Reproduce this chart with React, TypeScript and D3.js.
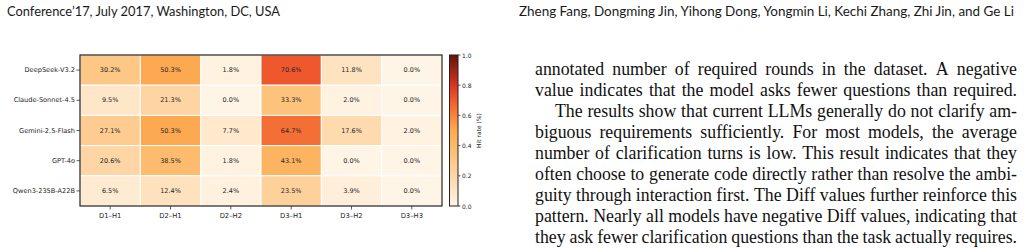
import * as d3 from 'd3'
import React, { useMemo } from 'react'

const models = ['DeepSeek-V3.2', 'Claude-Sonnet-4.5', 'Gemini-2.5-Flash', 'GPT-4o', 'Qwen3-235B-A22B']
const settings = ['D1–H1', 'D2–H1', 'D2–H2', 'D3–H1', 'D3–H2', 'D3–H3']
const deepseek = [30.2, 50.3, 1.8, 70.6, 11.8, 0.0]
const claude = [9.5, 21.3, 0.0, 33.3, 2.0, 0.0]
const gemini = [27.1, 50.3, 7.7, 64.7, 17.6, 2.0]
const gpt4o = [20.6, 38.5, 1.8, 43.1, 0.0, 0.0]
const qwen = [6.5, 12.4, 2.4, 23.5, 3.9, 0.0]
const rows = [deepseek, claude, gemini, gpt4o, qwen]
const barTicks = [0, 0.2, 0.4, 0.6, 0.8, 1.0]

const headerLeft = 'Conference’17, July 2017, Washington, DC, USA'
const headerRight = 'Zheng Fang, Dongming Jin, Yihong Dong, Yongmin Li, Kechi Zhang, Zhi Jin, and Ge Li'
const bodyLines = [
  'annotated number of required rounds in the dataset. A negative',
  'value indicates that the model asks fewer questions than required.',
  'The results show that current LLMs generally do not clarify am-',
  'biguous requirements sufficiently. For most models, the average',
  'number of clarification turns is low. This result indicates that they',
  'often choose to generate code directly rather than resolve the ambi-',
  'guity through interaction first. The Diff values further reinforce this',
  'pattern. Nearly all models have negative Diff values, indicating that',
  'they ask fewer clarification questions than the task actually requires.',
]

const bodyFont = '17.8px "Liberation Serif"'
const sans = 'DejaVu Sans'

// colour map: cream -> orange -> red -> dark brown
const color = d3
  .scaleLinear<string>()
  .domain([0, 0.2, 0.4, 0.5, 0.6, 0.7, 0.8, 1.0])
  .range(['#fff5e6', '#fed6a6', '#fdb968', '#fdaa52', '#f8823c', '#f05a2e', '#d7361f', '#64140a'])
  .interpolate(d3.interpolateRgb)
  .clamp(true)

const JustifiedLine = ({ text, x0, x1, y, ctx }) => {
  const words = text.split(' ')
  const widths = words.map((w) => ctx.measureText(w).width)
  const total = d3.sum(widths)
  const gap = words.length > 1 ? (x1 - x0 - total) / (words.length - 1) : 0
  let x = x0
  return (
    <text y={y} style={{ font: bodyFont }} fill="#111">
      {words.map((w, i) => {
        const cx = x
        x += widths[i] + gap
        return (
          <tspan key={i} x={cx}>
            {w}
          </tspan>
        )
      })}
    </text>
  )
}

const App = () => {
  const ctx = useMemo(() => {
    const c = document.createElement('canvas').getContext('2d')
    c.font = bodyFont
    return c
  }, [])

  const left = 80
  const right = 442
  const top = 55
  const bottom = 206
  const x = d3.scaleBand().domain(settings).range([left, right])
  const y = d3.scaleBand().domain(models).range([top, bottom])
  const cbX = 449.5
  const cbW = 8.5
  const cb = d3.scaleLinear().domain([0, 1]).range([bottom, top])
  const gradStops = d3.range(0, 1.0001, 0.05)

  return (
    <div style={{ position: 'absolute', left: 0, top: 0 }}>
      <svg width={1024} height={248} style={{ display: 'block', background: '#fff' }}>
        <defs>
          <linearGradient id="cbar" x1="0" y1="1" x2="0" y2="0">
            {gradStops.map((t) => (
              <stop key={t} offset={t} stopColor={color(t)} />
            ))}
          </linearGradient>
        </defs>

        <text x={7} y={16} fontFamily="Lato" fontSize={13} fill="#1a1a1a" textLength={273} lengthAdjust="spacingAndGlyphs">
          {headerLeft}
        </text>
        <text x={519} y={16} fontFamily="Lato" fontSize={13} fill="#1a1a1a" textLength={495} lengthAdjust="spacingAndGlyphs">
          {headerRight}
        </text>

        {/* heatmap cells */}
        {rows.map((vals, r) =>
          vals.map((v, c) => (
            <g key={`${r}-${c}`}>
              <rect
                x={x(settings[c])}
                y={y(models[r])}
                width={x.bandwidth()}
                height={y.bandwidth()}
                fill={color(v / 100)}
                stroke="#fff"
                strokeWidth={1}
              />
              <text
                x={x(settings[c]) + x.bandwidth() / 2}
                y={y(models[r]) + y.bandwidth() / 2}
                textAnchor="middle"
                dominantBaseline="central"
                fontFamily={sans}
                fontSize={6.5}
                fill="#262626"
              >
                {v.toFixed(1)}%
              </text>
            </g>
          ))
        )}
        <rect x={left} y={top} width={right - left} height={bottom - top} fill="none" stroke="#222" strokeWidth={1.2} />

        {/* y axis */}
        {models.map((m) => (
          <g key={m} transform={`translate(0, ${y(m) + y.bandwidth() / 2})`}>
            <line x1={left - 3.5} x2={left} stroke="#333" strokeWidth={0.8} />
            <text x={left - 5} textAnchor="end" dominantBaseline="central" fontFamily={sans} fontSize={6.6} fill="#262626">
              {m}
            </text>
          </g>
        ))}
        {/* x axis */}
        {settings.map((s) => (
          <g key={s} transform={`translate(${x(s) + x.bandwidth() / 2}, ${bottom})`}>
            <line y1={0} y2={3.5} stroke="#333" strokeWidth={0.8} />
            <text y={12} textAnchor="middle" fontFamily={sans} fontSize={6.8} fill="#262626">
              {s}
            </text>
          </g>
        ))}

        {/* colour bar */}
        <rect x={cbX} y={top} width={cbW} height={bottom - top} fill="url(#cbar)" stroke="#222" strokeWidth={1} />
        {barTicks.map((t) => (
          <g key={t} transform={`translate(${cbX + cbW}, ${cb(t)})`}>
            <line x1={0} x2={2.5} stroke="#333" strokeWidth={0.8} />
            <text x={4} dominantBaseline="central" fontFamily={sans} fontSize={6} fill="#262626">
              {t.toFixed(1)}
            </text>
          </g>
        ))}
        <text
          transform={`translate(478, ${(top + bottom) / 2}) rotate(-90)`}
          textAnchor="middle"
          dominantBaseline="central"
          fontFamily={sans}
          fontSize={6}
          fill="#262626"
        >
          Hit rate (%)
        </text>

        {/* body text */}
        {bodyLines.map((t, i) => (
          <JustifiedLine key={i} text={t} x0={i === 2 ? 555 : 535} x1={1017} y={75 + i * 21} ctx={ctx} />
        ))}
      </svg>
    </div>
  )
}

export default App
